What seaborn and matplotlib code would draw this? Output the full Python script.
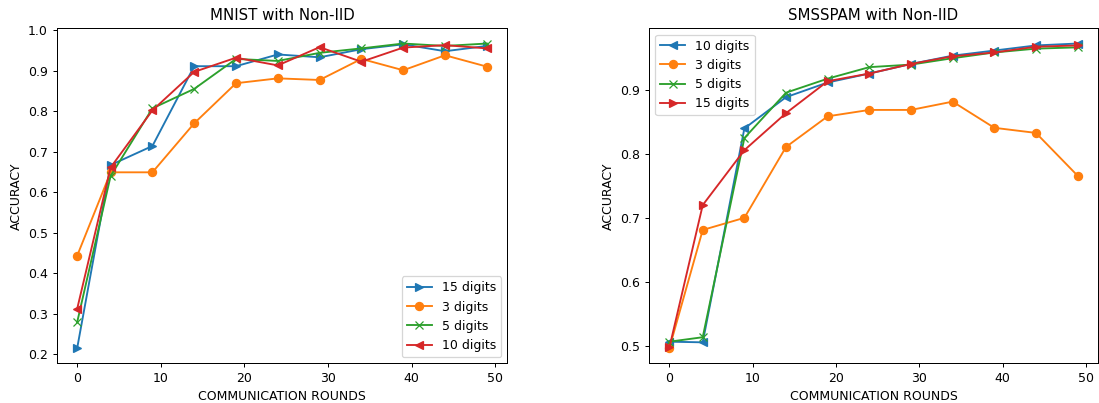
import matplotlib
matplotlib.use("Agg")
import matplotlib.pyplot as plt
import seaborn as sns
import pandas as pd

rounds = [0, 4, 9, 14, 19, 24, 29, 34, 39, 44, 49]

# MNIST with Non-IID
mnist_15 = [0.215, 0.667, 0.714, 0.911, 0.911, 0.940, 0.933, 0.953, 0.965, 0.948, 0.961]
mnist_3 = [0.443, 0.649, 0.649, 0.770, 0.869, 0.881, 0.877, 0.929, 0.901, 0.938, 0.910]
mnist_5 = [0.279, 0.640, 0.807, 0.855, 0.929, 0.924, 0.944, 0.955, 0.967, 0.961, 0.967]
mnist_10 = [0.312, 0.661, 0.802, 0.897, 0.932, 0.913, 0.958, 0.922, 0.957, 0.963, 0.955]

# SMSSPAM with Non-IID
sms_10 = [0.506, 0.505, 0.840, 0.889, 0.912, 0.926, 0.941, 0.954, 0.962, 0.970, 0.973]
sms_3 = [0.496, 0.681, 0.700, 0.811, 0.859, 0.869, 0.869, 0.882, 0.841, 0.833, 0.766]
sms_5 = [0.506, 0.513, 0.825, 0.896, 0.918, 0.936, 0.940, 0.950, 0.959, 0.965, 0.967]
sms_15 = [0.497, 0.720, 0.806, 0.864, 0.914, 0.926, 0.941, 0.953, 0.959, 0.968, 0.970]

pal = sns.color_palette("tab10")

DPI = 90
fig = plt.figure(figsize=(1099 / DPI, 403 / DPI), dpi=DPI)
ax1 = fig.add_axes([56.7 / 1099, 39.7 / 403, 450.6 / 1099, 335 / 403])
ax2 = fig.add_axes([649 / 1099, 39.7 / 403, 449 / 1099, 335 / 403])


def draw(ax, series):
    for label, vals, color, marker in series:
        df = pd.DataFrame({"x": rounds, "y": vals})
        sns.lineplot(data=df, x="x", y="y", ax=ax, color=color, marker=marker,
                     markersize=6.5, markeredgecolor=color, markeredgewidth=1,
                     linewidth=1.5, label=label)


draw(ax1, [
    ("15 digits", mnist_15, pal[0], ">"),
    ("3 digits", mnist_3, pal[1], "o"),
    ("5 digits", mnist_5, pal[2], "x"),
    ("10 digits", mnist_10, pal[3], "<"),
])
draw(ax2, [
    ("10 digits", sms_10, pal[0], "<"),
    ("3 digits", sms_3, pal[1], "o"),
    ("5 digits", sms_5, pal[2], "x"),
    ("15 digits", sms_15, pal[3], ">"),
])

ax1.set_title("MNIST with Non-IID", fontsize=12, pad=7)
ax2.set_title("SMSSPAM with Non-IID", fontsize=12, pad=7)
for ax in (ax1, ax2):
    ax.set_xlabel("COMMUNICATION ROUNDS")
    ax.set_ylabel("ACCURACY")
    ax.set_xticks([0, 10, 20, 30, 40, 50])
ax1.set_yticks([0.2, 0.3, 0.4, 0.5, 0.6, 0.7, 0.8, 0.9, 1.0])
ax2.set_yticks([0.5, 0.6, 0.7, 0.8, 0.9])
ax1.legend(loc="lower right")
ax2.legend(loc="upper left")

fig.savefig("out.png", dpi=DPI)
